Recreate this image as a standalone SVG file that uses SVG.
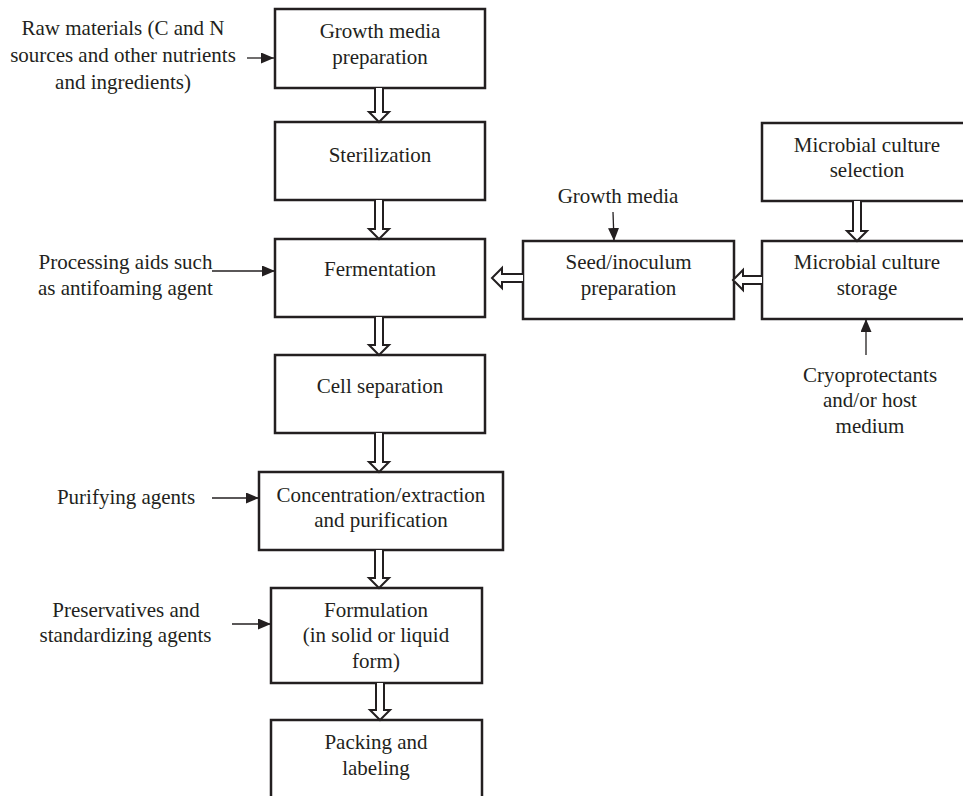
<svg xmlns="http://www.w3.org/2000/svg" width="963" height="796" viewBox="0 0 963 796">
<defs>
<style>
.box{fill:#fff;stroke:#231f20;stroke-width:2.5}
.t{font-family:"Liberation Serif","Times New Roman",serif;font-size:21px;fill:#231f20;text-anchor:middle}
.hol{fill:#fff;stroke:#231f20;stroke-width:2;stroke-linejoin:miter}
.thin{stroke:#231f20;stroke-width:1.3;fill:none;marker-end:url(#ah)}
</style>
<marker id="ah" markerUnits="userSpaceOnUse" markerWidth="13" markerHeight="11" refX="13" refY="5.5" orient="auto">
<path d="M0,0 L13,5.5 L0,11 z" fill="#231f20"/>
</marker>
</defs>
<rect width="963" height="796" fill="#fff"/>

<g id="n-growth-media-prep">
<rect class="box" x="275" y="9" width="210" height="79"/>
<text class="t" x="380" y="38">Growth media</text>
<text class="t" x="380" y="64">preparation</text>
</g>
<g id="n-sterilization">
<rect class="box" x="275" y="122" width="210" height="78"/>
<text class="t" x="380" y="162">Sterilization</text>
</g>
<g id="n-fermentation">
<rect class="box" x="275" y="239" width="210" height="78"/>
<text class="t" x="380" y="276">Fermentation</text>
</g>
<g id="n-cell-separation">
<rect class="box" x="275" y="355" width="210" height="78"/>
<text class="t" x="380" y="393">Cell separation</text>
</g>
<g id="n-concentration">
<rect class="box" x="259" y="472" width="244" height="78"/>
<text class="t" x="381" y="502">Concentration/extraction</text>
<text class="t" x="381" y="527">and purification</text>
</g>
<g id="n-formulation">
<rect class="box" x="271" y="588" width="211" height="95"/>
<text class="t" x="376" y="617">Formulation</text>
<text class="t" x="376" y="642">(in solid or liquid</text>
<text class="t" x="376" y="668">form)</text>
</g>
<g id="n-packing">
<rect class="box" x="271" y="720" width="211" height="95"/>
<text class="t" x="376" y="749">Packing and</text>
<text class="t" x="376" y="775">labeling</text>
</g>
<g id="n-seed">
<rect class="box" x="523" y="241" width="211" height="78"/>
<text class="t" x="628.5" y="269">Seed/inoculum</text>
<text class="t" x="628.5" y="295">preparation</text>
</g>
<g id="n-storage">
<rect class="box" x="762" y="241" width="220" height="78"/>
<text class="t" x="867" y="269">Microbial culture</text>
<text class="t" x="867" y="295">storage</text>
</g>
<g id="n-selection">
<rect class="box" x="762" y="123" width="220" height="78"/>
<text class="t" x="867" y="152">Microbial culture</text>
<text class="t" x="867" y="177">selection</text>
</g>

<g id="labels">
<text class="t" x="123" y="35">Raw materials (C and N</text>
<text class="t" x="123" y="62">sources and other nutrients</text>
<text class="t" x="123" y="89">and ingredients)</text>
<text class="t" x="125.5" y="269">Processing aids such</text>
<text class="t" x="125.5" y="295">as antifoaming agent</text>
<text class="t" x="126" y="504">Purifying agents</text>
<text class="t" x="126" y="617">Preservatives and</text>
<text class="t" x="125.5" y="642">standardizing agents</text>
<text class="t" x="618" y="203">Growth media</text>
<text class="t" x="870" y="382">Cryoprotectants</text>
<text class="t" x="870" y="407">and/or host</text>
<text class="t" x="870" y="433">medium</text>
</g>

<g id="connectors">
<path class="hol" d="M375,88 L375,112 L369,112 L379,122 L389,112 L383,112 L383,88"/>
<path class="hol" d="M375,200 L375,229 L369,229 L379,239 L389,229 L383,229 L383,200"/>
<path class="hol" d="M375,317 L375,345 L369,345 L379,355 L389,345 L383,345 L383,317"/>
<path class="hol" d="M375,433 L375,462 L369,462 L379,472 L389,462 L383,462 L383,433"/>
<path class="hol" d="M375,550 L375,578 L369,578 L379,588 L389,578 L383,578 L383,550"/>
<path class="hol" d="M376,683 L376,710 L370,710 L380,720 L390,710 L384,710 L384,683"/>
<path class="hol" d="M853,201 L853,231 L847,231 L857,241 L867,231 L861,231 L861,201"/>
<path class="hol" d="M523,274 L502,274 L502,268 L492,278 L502,288 L502,282 L523,282"/>
<path class="hol" d="M762,276 L743,276 L743,270 L733,280 L743,290 L743,284 L762,284"/>
<line class="thin" x1="247" y1="58" x2="274" y2="58"/>
<line class="thin" x1="212" y1="271" x2="275" y2="271"/>
<line class="thin" x1="212" y1="498" x2="259" y2="498"/>
<line class="thin" x1="232" y1="624" x2="271" y2="624"/>
<line class="thin" x1="613" y1="212" x2="614" y2="241"/>
<line class="thin" x1="866" y1="355" x2="866" y2="319"/>
</g>
</svg>
